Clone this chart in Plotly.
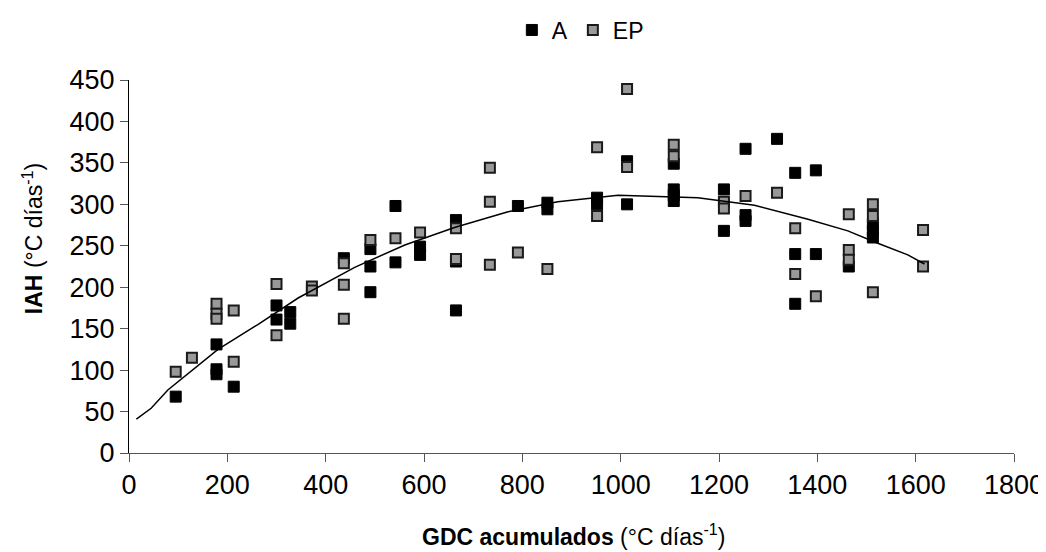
'''IAH vs GDC acumulados scatter with trend line'''
import plotly.graph_objects as go

# series A (black squares)
a_x = [95, 178, 178, 178, 213, 300, 300, 328, 328, 437, 491, 491, 491, 542, 542,
       592, 592, 665, 665, 665, 791, 851, 851, 952, 952, 1013, 1013,
       1108, 1108, 1108, 1108, 1210, 1210, 1254, 1254, 1254, 1318,
       1355, 1355, 1355, 1397, 1397, 1464, 1513, 1513, 1513]
a_y = [68, 131, 101, 95, 80, 178, 161, 170, 156, 235, 246, 225, 194, 298, 230,
       249, 239, 281, 231, 172, 298, 302, 294, 308, 300, 352, 300,
       349, 318, 311, 304, 318, 268, 367, 287, 280, 379,
       338, 240, 180, 341, 240, 225, 276, 268, 260]

# series EP (grey squares)
ep_x = [95, 128, 178, 178, 178, 213, 213, 300, 300, 372, 372, 437, 437, 437,
        491, 542, 592, 665, 665, 734, 734, 734, 791, 851, 952, 952, 1013, 1013,
        1108, 1108, 1210, 1210, 1254, 1318, 1355, 1355, 1397, 1464, 1464, 1464,
        1513, 1513, 1513, 1615, 1615]
ep_y = [98, 115, 180, 168, 162, 172, 110, 204, 142, 201, 196, 229, 203, 162,
        257, 259, 266, 271, 234, 344, 303, 227, 242, 222, 369, 286, 439, 345,
        372, 358, 303, 295, 310, 314, 271, 216, 189, 288, 245, 233,
        300, 286, 194, 269, 225]

# trend line
trend_x = [15, 45, 79, 181, 262, 344, 459, 561, 662, 771, 872, 995,
           1157, 1272, 1381, 1462, 1523, 1584, 1618]
trend_y = [41, 54, 76, 125, 155, 187, 224, 251, 272, 291, 303, 311,
           308, 299, 282, 268, 253, 239, 228]

FONT = 'Liberation Sans, Arial, sans-serif'

fig = go.Figure()
fig.add_trace(go.Scatter(
    x=a_x, y=a_y, mode='markers', name='A',
    marker={'symbol': 'square', 'size': 11, 'color': 'black',
            'line': {'color': 'black', 'width': 1}}
))
fig.add_trace(go.Scatter(
    x=ep_x, y=ep_y, mode='markers', name='EP',
    marker={'symbol': 'square', 'size': 10, 'color': '#999999',
            'line': {'color': '#1a1a1a', 'width': 2}}
))
fig.add_trace(go.Scatter(
    x=trend_x, y=trend_y, mode='lines', showlegend=False,
    line={'color': 'black', 'width': 1.5}
))

fig.update_xaxes(
    range=[0, 1800], dtick=200, showgrid=False, zeroline=False,
    showline=True, linecolor='#555555', linewidth=1,
    ticks='outside', ticklen=8, tickcolor='#555555',
    tickfont={'size': 27, 'color': 'black'}
)
fig.update_yaxes(
    range=[0, 450], dtick=50, showgrid=False, zeroline=False,
    showline=True, linecolor='black', linewidth=1,
    ticks='outside', ticklen=8, tickcolor='#555555',
    tickfont={'size': 27, 'color': 'black'}
)

fig.update_layout(
    width=1046, height=552,
    margin={'l': 121, 'r': 40, 't': 72, 'b': 107, 'autoexpand': False},
    plot_bgcolor='white', paper_bgcolor='white',
    font={'family': FONT, 'color': 'black'},
    legend={'orientation': 'h', 'x': 0.51, 'y': 1.134,
            'xanchor': 'center', 'yanchor': 'middle',
            'font': {'size': 23}, 'itemwidth': 30},
    annotations=[
        {'text': '<b>GDC acumulados</b> (°C días<sup>-1</sup>)',
         'xref': 'paper', 'yref': 'paper', 'x': 0.502, 'y': -0.22,
         'xanchor': 'center', 'yanchor': 'middle', 'showarrow': False,
         'font': {'size': 23}},
        {'text': '<b>IAH</b> (°C días<sup>-1</sup>)',
         'xref': 'paper', 'yref': 'paper', 'x': -0.1085, 'y': 0.576,
         'xanchor': 'center', 'yanchor': 'middle', 'showarrow': False,
         'textangle': -90, 'font': {'size': 23}},
    ]
)

fig.write_html('out.html')
